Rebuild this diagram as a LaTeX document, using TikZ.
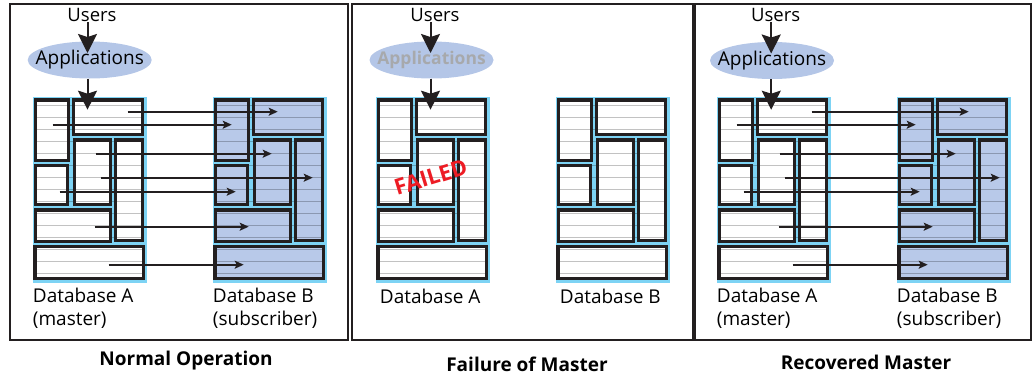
\documentclass[tikz,border=0pt]{standalone}
\usepackage{fontspec}
\setmainfont{Open Sans}
\usetikzlibrary{shapes.geometric,arrows.meta}

\definecolor{dbblue}{HTML}{B8C9E9}
\definecolor{appblue}{HTML}{B4C6E7}
\definecolor{rimcyan}{HTML}{7DD3F4}
\definecolor{inkdark}{HTML}{231F20}
\definecolor{failred}{HTML}{ED1C24}
\definecolor{appgray}{HTML}{A7A9AC}

\tikzset{
  dbbox/.style={draw=rimcyan,fill=rimcyan,line width=1.5pt,minimum width=113pt,minimum height=185pt,inner sep=0pt,anchor=north west},
  block/.style={draw=inkdark,line width=3.2pt},
  stripe/.style={draw=black,opacity=0.24,line width=1.5pt},
  bigarrow/.style={-{Stealth[length=19pt,width=19pt,inset=3pt]},line width=2pt,draw=inkdark},
  repl/.style={-{Stealth[length=9pt,width=8pt,inset=2pt]},line width=1.8pt,draw=inkdark},
  app/.style={ellipse,fill=appblue,minimum width=124pt,minimum height=37pt,inner sep=0pt,font=\fontsize{19}{20}\selectfont},
  users/.style={inner sep=0pt,font=\fontsize{18.5}{21}\selectfont},
  dblabel/.style={inner sep=0pt,anchor=north west,align=left,font=\fontsize{19}{23}\selectfont},
  title/.style={font=\fontsize{19}{21}\selectfont\bfseries},
  frame/.style={draw=inkdark,line width=2pt}
}

% block outlines inside one database
\newcommand{\blocklist}{2.9/3.2/35.7/64, 40.6/3.2/109.7/37.4, 2.9/68.9/35/107.4,
  41.6/43.2/78/107.4, 82.9/43.2/109.7/144, 2.9/113.2/78/144.4, 2.2/149.9/110.7/181.7}

% one database: name, top left corner, fill
\newcommand{\dbstack}[3]{%
  \node[dbbox] (#1) at (#2) {};
  \begin{scope}[shift={(#1.north west)}]
    \foreach \xa/\ya/\xb/\yb in \blocklist \fill[#3] (\xa,\ya) rectangle (\xb,\yb);
    \foreach \k in {0,...,14} \draw[stripe] (2.5,9+12*\k) -- (110.5,9+12*\k);
    \foreach \xa/\ya/\xb/\yb in \blocklist \draw[block] (\xa,\ya) rectangle (\xb,\yb);
  \end{scope}}

% label kept narrow so the ellipse keeps its size
\newcommand{\applabel}[1]{\makebox[80pt][c]{#1}}

\begin{document}
\begin{tikzpicture}[x=1pt,y=-1pt]
\useasboundingbox (0,0) rectangle (1034,375);
\draw[frame] (10,4) rectangle (348,340);
\draw[frame] (352,4) rectangle (693,340);
\draw[frame] (695,4) rectangle (1031,340);

% normal operation
\node[users] (U1) at (92,15) {Users};
\node[app] (A1) at (89.7,60) {\applabel{Applications}};
\dbstack{DA1}{32.7,96.7}{white}
\dbstack{DB1}{212.7,96.7}{dbblue}
\draw[bigarrow] ([xshift=-4.5pt]U1.south) -- ([xshift=-4.5pt,yshift=7pt]U1.south |- A1.center);
\draw[bigarrow] ([xshift=-4.5pt]U1.south |- A1.south) -- ([xshift=-4.5pt,yshift=-13pt]U1.south |- DA1.north);
\foreach \sa/\eb/\h in {95/65/15,20/19/28,63/59/57,68/100/81,27/23/95,62/36/130,76/31/168}
  \draw[repl] ([shift={(\sa,\h)}]DA1.north west) -- ([shift={(\eb,\h)}]DB1.north west);
\node[dblabel] (LA1) at ([yshift=-5pt]DA1.south west) {Database A\\(master)};
\node[dblabel] (LB1) at ([yshift=-5pt]DB1.south west) {Database B\\(subscriber)};
\node[title] (T1) at (186,361) {Normal Operation};

% failure of master
\node[users] (U2) at (435,15) {Users};
\node[app,text=appgray,font=\fontsize{17.5}{20}\selectfont\bfseries] (A2) at (431.5,60) {\applabel{Applications}};
\dbstack{DA2}{375.7,96.7}{white}
\dbstack{DB2}{555.7,96.7}{white}
\draw[bigarrow] ([xshift=-4.5pt]U2.south) -- ([xshift=-4.5pt,yshift=7pt]U2.south |- A2.center);
\draw[bigarrow] ([xshift=-4.5pt]U2.south |- A2.south) -- ([xshift=-4.5pt,yshift=-13pt]U2.south |- DA2.north);
\node[rotate=17,inner sep=0pt,text=failred,font=\fontsize{22}{24}\selectfont\bfseries] (F2) at (430.7,177.3) {FAILED};
\node[dblabel] (LA2) at ([xshift=4pt,yshift=-6pt]DA2.south west) {Database A};
\node[dblabel] (LB2) at ([xshift=4pt,yshift=-6pt]DB2.south west) {Database B};
\node[title] (T2) at (527,364) {Failure of Master};

% recovered master
\node[users] (U3) at (775.7,15) {Users};
\node[app] (A3) at (772,60.5) {\applabel{Applications}};
\dbstack{DA3}{716.7,96.7}{white}
\dbstack{DB3}{896.7,96.7}{dbblue}
\draw[bigarrow] ([xshift=-4.5pt]U3.south) -- ([xshift=-4.5pt,yshift=7pt]U3.south |- A3.center);
\draw[bigarrow] ([xshift=-4.5pt]U3.south |- A3.south) -- ([xshift=-4.5pt,yshift=-13pt]U3.south |- DA3.north);
\foreach \sa/\eb/\h in {95/72/15,20/19/28,63/59/57,68/103/81,27/23/95,62/36/130,76/31/168}
  \draw[repl] ([shift={(\sa,\h)}]DA3.north west) -- ([shift={(\eb,\h)}]DB3.north west);
\node[dblabel] (LA3) at ([yshift=-5pt]DA3.south west) {Database A\\(master)};
\node[dblabel] (LB3) at ([yshift=-5pt]DB3.south west) {Database B\\(subscriber)};
\node[title] (T3) at (866,362) {Recovered Master};
\end{tikzpicture}
\end{document}
